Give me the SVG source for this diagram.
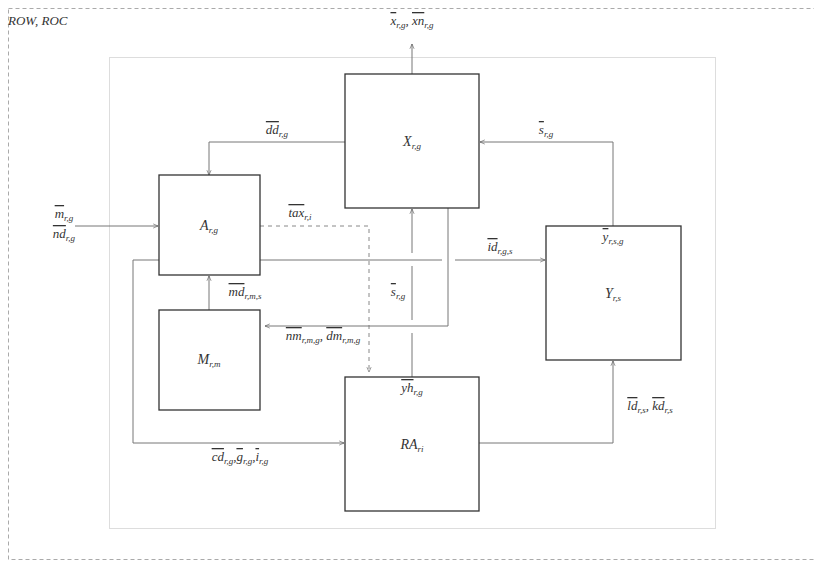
<svg xmlns="http://www.w3.org/2000/svg" width="814" height="562" viewBox="0 0 814 562">
<defs>
<marker id="ar" viewBox="0 0 10 10" refX="9" refY="5" markerWidth="6" markerHeight="6" orient="auto" markerUnits="userSpaceOnUse">
<path d="M1,1.5 L9,5 L1,8.5" fill="none" stroke="#555" stroke-width="1"/>
</marker>
</defs>
<style>
text{font-style:italic;fill:#333;}
.lb{font-size:13px;}
.nd{font-size:14px;}
.sb{font-size:9px;}
.ov{text-decoration:overline;}
.box{fill:#fff;stroke:#333;stroke-width:1.3;}
.ln{fill:none;stroke:#777;stroke-width:1;}
.dl{fill:none;stroke:#888;stroke-width:1;stroke-dasharray:4,4;}
</style>
<g font-family="'Liberation Serif', 'DejaVu Serif', serif">
<rect x="8.5" y="8.5" width="820" height="551" fill="none" stroke="#aaa" stroke-width="1" stroke-dasharray="4,3"/>
<text x="8" y="25" class="lb">ROW, ROC</text>
<rect x="109.5" y="57.5" width="606" height="471" fill="none" stroke="#ddd" stroke-width="1"/>
<g id="connectors">
<path class="ln" d="M412,74 V44" marker-end="url(#ar)"/>
<path class="ln" d="M345,142 H209 V175" marker-end="url(#ar)"/>
<path class="ln" d="M613,226 V142 H480" marker-end="url(#ar)"/>
<path class="ln" d="M75,226 H158" marker-end="url(#ar)"/>
<path class="dl" d="M260,226 H369 V372" marker-end="url(#ar)"/>
<path class="ln" d="M260,260 H442 M455,260 H545" marker-end="url(#ar)"/>
<path class="ln" d="M412,253 V209" marker-end="url(#ar)"/>
<path class="ln" d="M412,377 V333 M412,320 V266"/>
<path class="ln" d="M448,208 V326 H265" marker-end="url(#ar)"/>
<path class="ln" d="M209,310 V276" marker-end="url(#ar)"/>
<path class="ln" d="M159,260 H133 V443 H344" marker-end="url(#ar)"/>
<path class="ln" d="M479,443 H613 V361" marker-end="url(#ar)"/>
</g>
<g id="X"><rect class="box" x="345" y="74" width="134" height="134"/><text x="412" y="146" class="nd" text-anchor="middle">X<tspan class="sb" dy="3">r,g</tspan></text></g>
<g id="A"><rect class="box" x="159" y="175" width="101" height="100"/><text x="209" y="230" class="nd" text-anchor="middle">A<tspan class="sb" dy="3">r,g</tspan></text></g>
<g id="M"><rect class="box" x="159" y="310" width="101" height="100"/><text x="209" y="364" class="nd" text-anchor="middle">M<tspan class="sb" dy="3">r,m</tspan></text></g>
<g id="Y"><rect class="box" x="546" y="226" width="135" height="134"/><text x="613" y="298" class="nd" text-anchor="middle">Y<tspan class="sb" dy="3">r,s</tspan></text></g>
<g id="RA"><rect class="box" x="345" y="377" width="134" height="134"/><text x="412" y="449" class="nd" text-anchor="middle">RA<tspan class="sb" dy="3">ri</tspan></text></g>
<g id="labels">
<text x="412" y="25" class="lb" text-anchor="middle"><tspan class="ov">x</tspan><tspan class="sb" dy="3">r,g</tspan><tspan dy="-3">, </tspan><tspan class="ov">xn</tspan><tspan class="sb" dy="3">r,g</tspan></text>
<text x="277" y="134" class="lb" text-anchor="middle"><tspan class="ov">dd</tspan><tspan class="sb" dy="3">r,g</tspan></text>
<text x="546" y="134" class="lb" text-anchor="middle"><tspan class="ov">s</tspan><tspan class="sb" dy="3">r,g</tspan></text>
<text x="613" y="241" class="lb" text-anchor="middle"><tspan class="ov">y</tspan><tspan class="sb" dy="3">r,s,g</tspan></text>
<text x="64" y="218" class="lb" text-anchor="middle"><tspan class="ov">m</tspan><tspan class="sb" dy="3">r,g</tspan></text>
<text x="64" y="238" class="lb" text-anchor="middle"><tspan class="ov">nd</tspan><tspan class="sb" dy="3">r,g</tspan></text>
<text x="300" y="217" class="lb" text-anchor="middle"><tspan class="ov">tax</tspan><tspan class="sb" dy="3">r,i</tspan></text>
<text x="500" y="251" class="lb" text-anchor="middle"><tspan class="ov">id</tspan><tspan class="sb" dy="3">r,g,s</tspan></text>
<text x="245" y="296" class="lb" text-anchor="middle"><tspan class="ov">md</tspan><tspan class="sb" dy="3">r,m,s</tspan></text>
<text x="398" y="296" class="lb" text-anchor="middle"><tspan class="ov">s</tspan><tspan class="sb" dy="3">r,g</tspan></text>
<text x="323" y="340" class="lb" text-anchor="middle"><tspan class="ov">nm</tspan><tspan class="sb" dy="3">r,m,g</tspan><tspan dy="-3">, </tspan><tspan class="ov">dm</tspan><tspan class="sb" dy="3">r,m,g</tspan></text>
<text x="412" y="392" class="lb" text-anchor="middle"><tspan class="ov">yh</tspan><tspan class="sb" dy="3">r,g</tspan></text>
<text x="240" y="461" class="lb" text-anchor="middle"><tspan class="ov">cd</tspan><tspan class="sb" dy="3">r,g</tspan><tspan dy="-3">,</tspan><tspan class="ov">g</tspan><tspan class="sb" dy="3">r,g</tspan><tspan dy="-3">,</tspan><tspan class="ov">i</tspan><tspan class="sb" dy="3">r,g</tspan></text>
<text x="650" y="410" class="lb" text-anchor="middle"><tspan class="ov">ld</tspan><tspan class="sb" dy="3">r,s</tspan><tspan dy="-3">, </tspan><tspan class="ov">kd</tspan><tspan class="sb" dy="3">r,s</tspan></text>
</g>
</g>
</svg>
